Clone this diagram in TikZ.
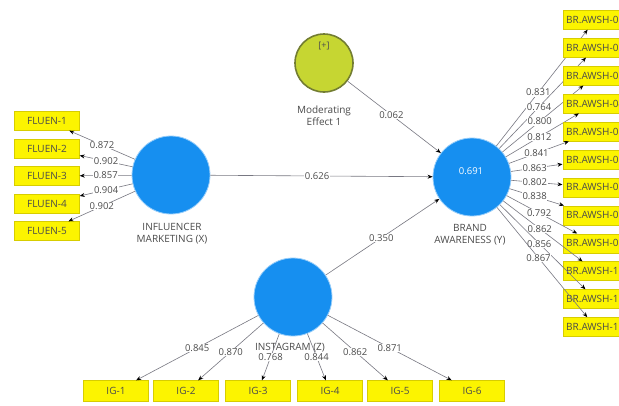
\documentclass[tikz,border=0pt]{standalone}
\usepackage{fontspec}
\setmainfont{Open Sans}
\usetikzlibrary{arrows.meta}
\definecolor{lvblue}{RGB}{22,143,240}
\definecolor{lvrim}{RGB}{150,205,250}
\definecolor{indyel}{RGB}{252,244,0}
\definecolor{indrim}{RGB}{215,205,0}
\definecolor{modfill}{RGB}{198,214,50}
\definecolor{modrim}{RGB}{115,125,50}
\definecolor{txtgray}{RGB}{75,75,75}
\definecolor{lngray}{RGB}{120,120,130}
\tikzset{
  lv/.style={circle, fill=lvblue, draw=lvrim, line width=0.8pt, minimum size=78pt, inner sep=0pt},
  modlv/.style={circle, fill=modfill, draw=modrim, line width=1.6pt, minimum size=58pt, inner sep=0pt},
  ind/.style={rectangle, fill=indyel, draw=indrim, line width=0.4pt, minimum width=65pt, minimum height=19pt, inner sep=0pt, text=txtgray, font=\fontsize{10}{12}\selectfont},
  indr/.style={rectangle, fill=indyel, draw=indrim, line width=0.4pt, minimum height=19pt, inner xsep=3.5pt, inner ysep=0pt, anchor=west, text=txtgray, font=\fontsize{10}{12}\selectfont},
  arr/.style={draw=lngray, line width=0.6pt, -{Stealth[length=5pt,width=4pt,black]}},
  lbl/.style={fill=white, inner sep=0.6pt, text=txtgray, font=\fontsize{9.5}{11}\selectfont},
  nlab/.style={align=center, text=txtgray, font=\fontsize{10}{12}\selectfont}
}
\begin{document}
\begin{tikzpicture}[x=1pt,y=-1pt]
\clip (0,0) rectangle (619,405);
\fill[white] (0,0) rectangle (619,405);

% latent variables
\node[lv] (im) at (171,175) {};
\node[lv] (ba) at (472,177) {};
\node[lv] (ig) at (293,297) {};
\node[modlv] (me) at (324,63) {};
\node[text=txtgray, font=\fontsize{9}{10}\selectfont] (plus) at (324,46) {[+]};
\node[text=white, font=\fontsize{9.5}{11}\selectfont] (r2) at (471,171) {0.691};

\node[nlab] (imlab) at (172,234) {INFLUENCER\\MARKETING (X)};
\node[nlab] (balab) at (470,235) {BRAND\\AWARENESS (Y)};
\node[nlab] (iglab) at (290,348) {INSTAGRAM (Z)};
\node[nlab] (melab) at (324,116) {Moderating\\Effect 1};

% structural paths
\draw[arr] (im) -- node[lbl,pos=0.48] {0.626} (ba);
\draw[arr] (me) -- node[lbl,pos=0.47] {0.062} (ba);
\draw[arr] (ig) -- node[lbl,pos=0.49] {0.350} (ba);

% influencer indicators
\foreach \i/\y/\v in {1/121/0.872, 2/148.5/0.902, 3/176/0.857, 4/203.5/0.904, 5/231/0.902}{
  \node[ind] (f\i) at (47,\y) {FLUEN-\i};
  \draw[arr] (im) -- node[lbl,pos=0.5] {\v} (f\i);
}

% instagram indicators
\foreach \i/\x/\v in {1/116/0.845, 2/186/0.870, 3/258/0.768, 4/330/0.844, 5/400/0.862, 6/472/0.871}{
  \node[ind, minimum height=21pt] (g\i) at (\x,391) {IG-\i};
  \draw[arr] (ig) -- node[lbl,pos=0.5] {\v} (g\i);
}

% brand awareness indicators
\foreach \i/\t/\v in {1/01/0.831, 2/02/0.764, 3/03/0.800, 4/04/0.812, 5/05/0.841, 6/06/0.863, 7/07/0.802, 8/08/0.838, 9/09/0.792, 10/10/0.862, 11/11/0.856, 12/12/0.867}{
  \pgfmathsetmacro{\yy}{20+27.9*(\i-1)}
  \node[indr] (b\i) at (562.5,\yy) {BR.AWSH-\t};
  \draw[arr] (ba) -- node[lbl,pos=0.46] {\v} (b\i);
}
\end{tikzpicture}
\end{document}
